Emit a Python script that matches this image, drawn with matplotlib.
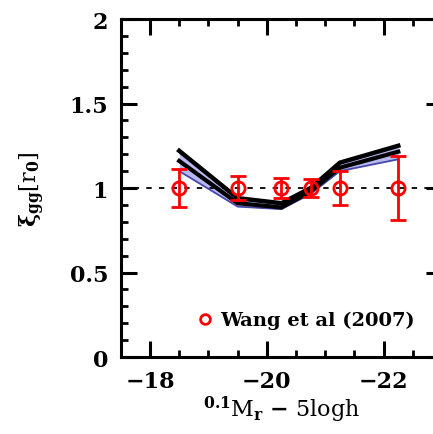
import numpy as np
import matplotlib
matplotlib.use("Agg")
import matplotlib.pyplot as plt
from matplotlib.ticker import MultipleLocator
from matplotlib.lines import Line2D

# Wang et al (2007) points
mag_obs = [-18.5, -19.5, -20.25, -20.75, -21.25, -22.25]
xi_obs = [1.0, 1.0, 1.0, 1.0, 1.0, 1.0]
xi_err = [0.11, 0.07, 0.06, 0.055, 0.10, 0.19]

# model band
mag_mod = [-18.5, -19.5, -20.25, -20.75, -21.25, -22.25]
xi_upper = [1.22, 0.94, 0.91, 1.00, 1.15, 1.25]
xi_mid = [1.16, 0.91, 0.885, 0.98, 1.12, 1.215]
xi_lower = [1.10, 0.89, 0.875, 0.965, 1.10, 1.17]

plt.rcParams['font.family'] = 'DejaVu Serif'
plt.rcParams['font.weight'] = 'bold'
plt.rcParams['mathtext.fontset'] = 'dejavuserif'
plt.rcParams['mathtext.default'] = 'bf'

fig = plt.figure(figsize=(4.33, 4.35), dpi=100)
ax = fig.add_axes([0.279, 0.177, 0.742, 0.777])

ax.fill_between(mag_mod, xi_lower, xi_upper, color='#b8b8f0', lw=0)
ax.plot(mag_mod, xi_lower, color='#4848a8', lw=1.3)
ax.plot(mag_mod, xi_mid, color='black', lw=3)
ax.plot(mag_mod, xi_upper, color='black', lw=3.2)

ax.axhline(1.0, color='black', lw=1.3, ls=(0, (3, 4)))

ax.errorbar(mag_obs, xi_obs, yerr=xi_err, fmt='o', mfc='none', mec='red',
            ecolor='red', ms=9.5, mew=2, elinewidth=2, capsize=6, capthick=2,
            zorder=5)

ax.set_xlim(-17.5, -23)
ax.set_ylim(0, 2)
ax.xaxis.set_major_locator(MultipleLocator(2))
ax.xaxis.set_minor_locator(MultipleLocator(0.5))
ax.yaxis.set_major_locator(MultipleLocator(0.5))
ax.yaxis.set_minor_locator(MultipleLocator(0.1))
ax.set_yticks([0, 0.5, 1, 1.5, 2])
ax.set_yticklabels(['0', '0.5', '1', '1.5', '2'])
ax.set_xticks([-18, -20, -22])
ax.set_xticklabels(['\u221218', '\u221220', '\u221222'])

ax.tick_params(which='both', direction='in', top=True, right=True, labelsize=16)
ax.tick_params(which='major', length=11.5, width=2.2, pad=9)
ax.tick_params(which='minor', length=5, width=2)
for s in ax.spines.values():
    s.set_linewidth(2.2)

ax.set_xlabel(r'$^{0.1}$M$_\mathbf{r}$ $-$ 5logh', fontsize=16, labelpad=2)
ax.set_ylabel(r'$\xi_{gg}$[r$_0$]', fontsize=16, labelpad=16)

handle = Line2D([], [], ls='none', marker='o', mfc='none', mec='red', ms=7, mew=2)
ax.legend([handle], ['Wang et al (2007)'], loc='lower right', frameon=False,
          fontsize=14, handletextpad=0.3, handlelength=1.0,
          bbox_to_anchor=(0.97, 0.03))

fig.savefig('out.png', dpi=100)
